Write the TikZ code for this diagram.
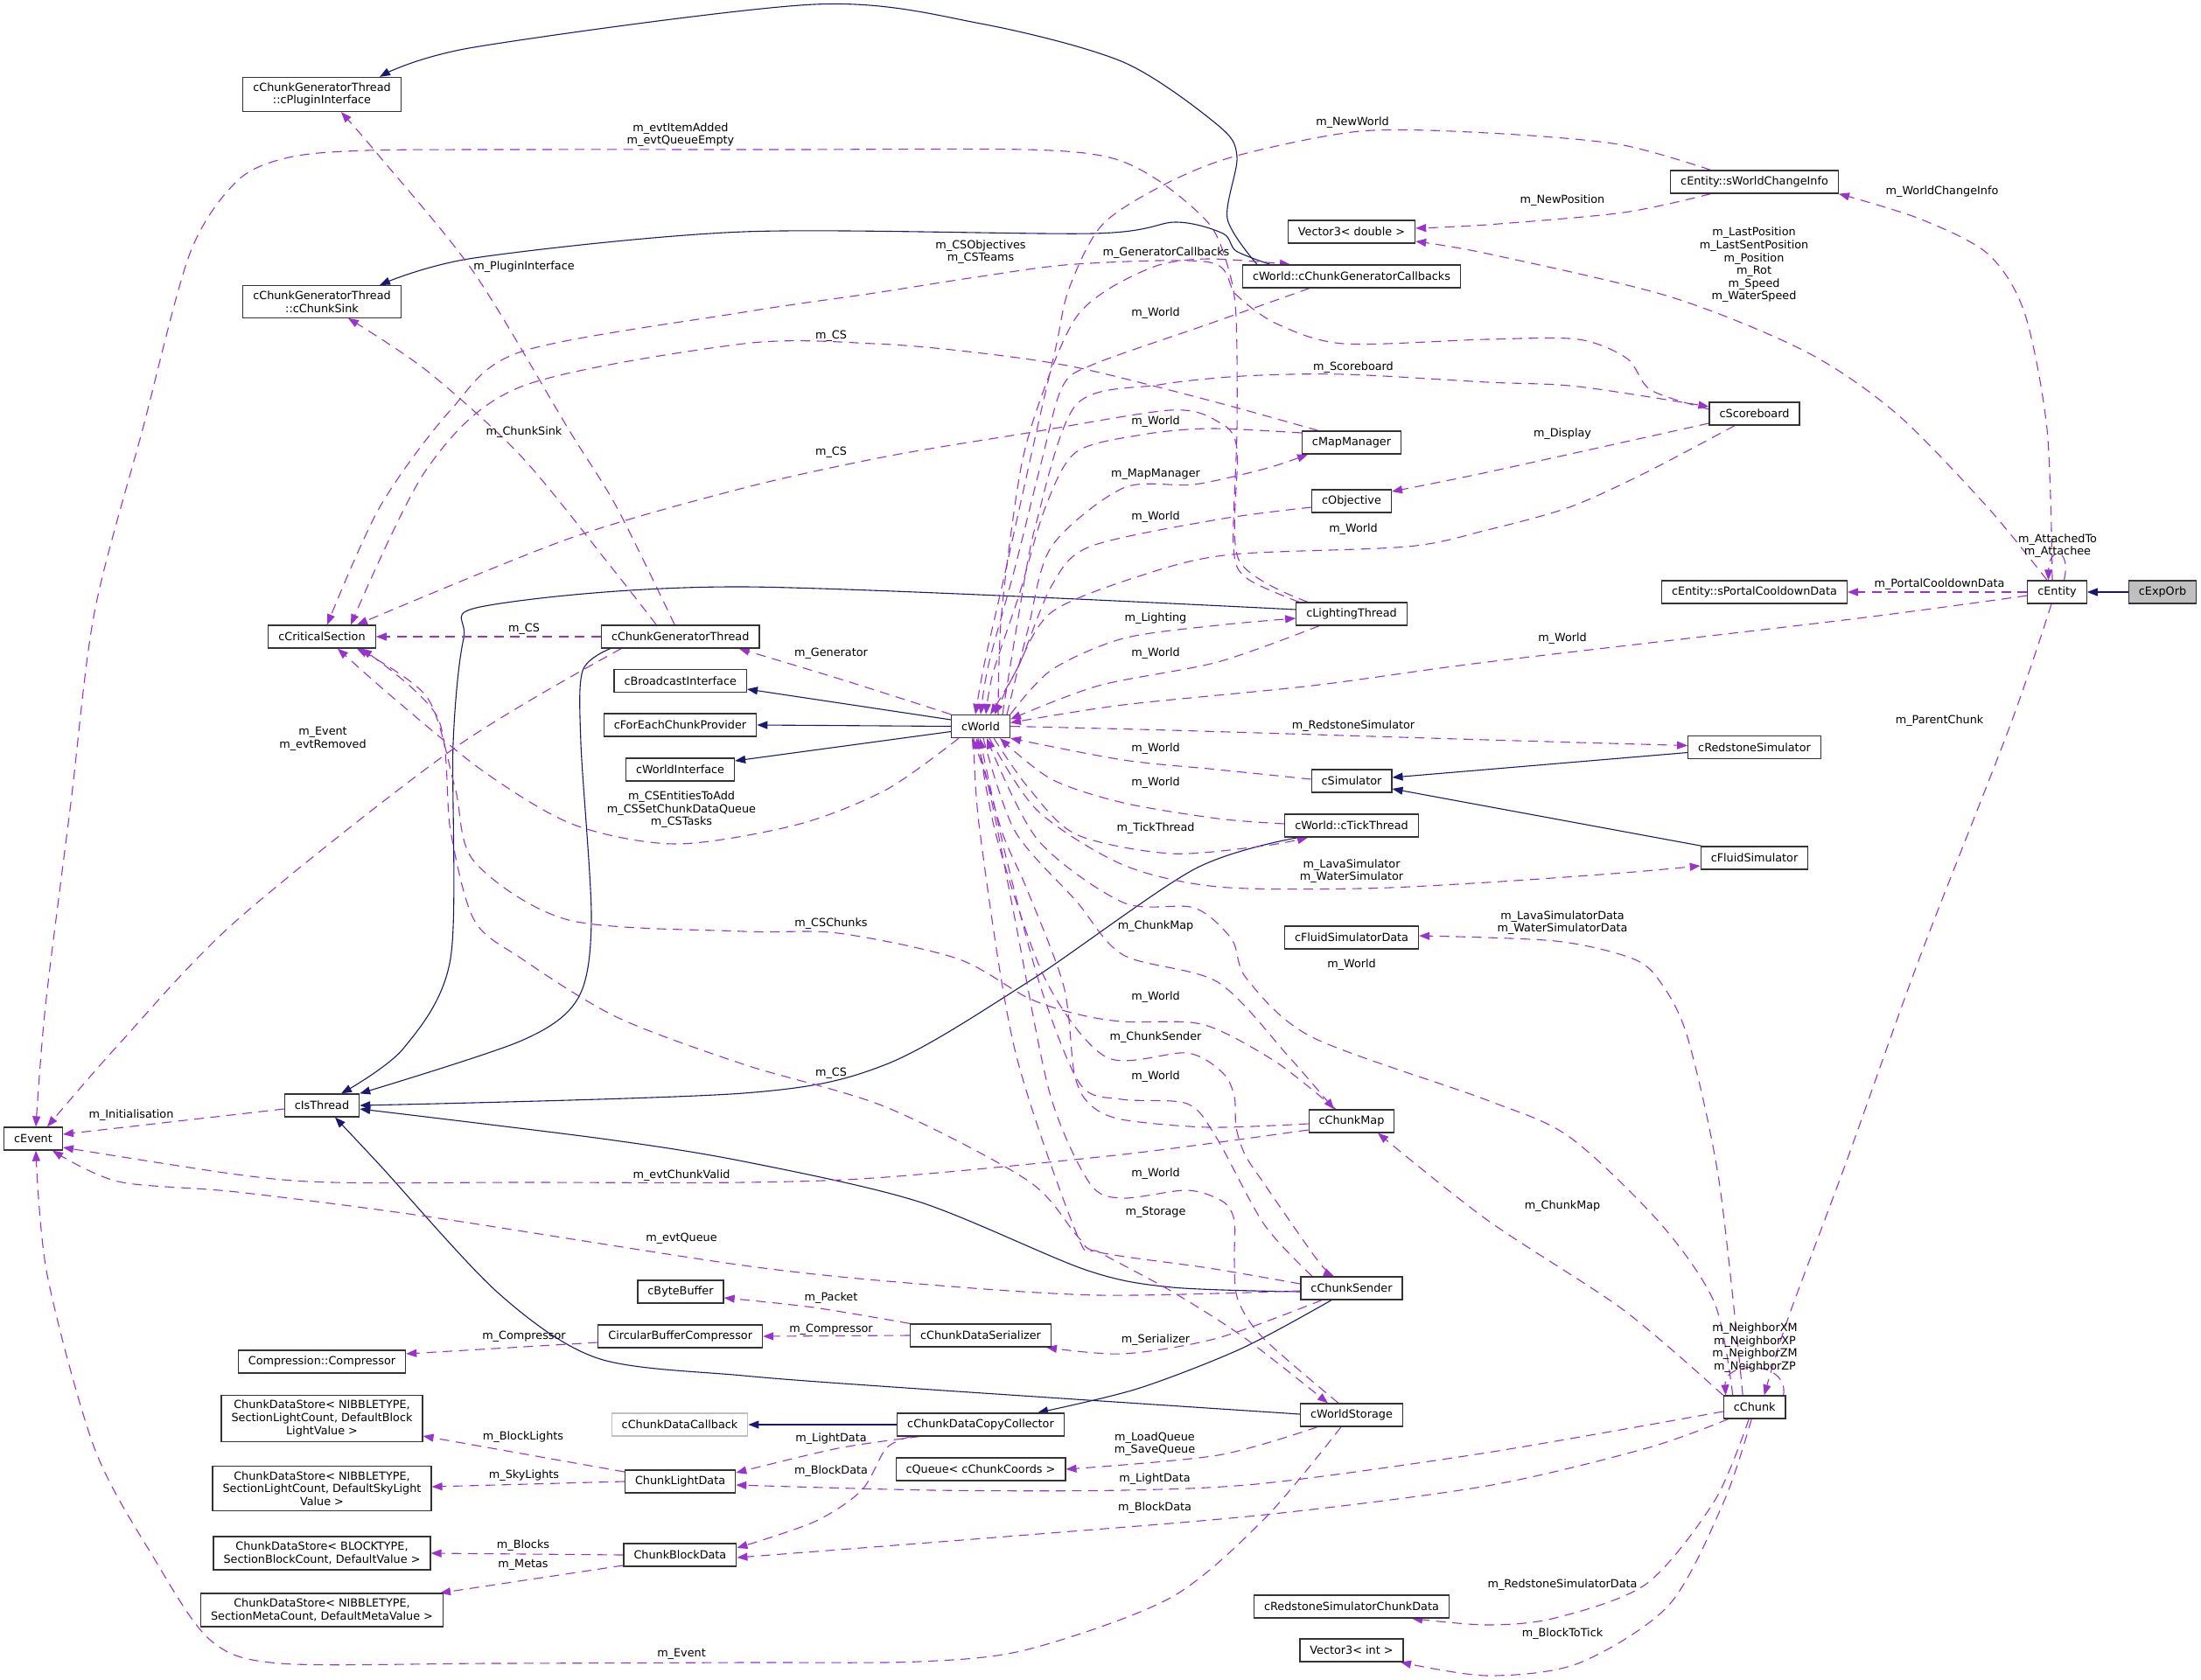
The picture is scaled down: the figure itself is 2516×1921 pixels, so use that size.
\documentclass[tikz,border=0pt]{standalone}
\usepackage{fontspec}
\setmainfont{DejaVu Sans}
\usepackage{tikz}
\usetikzlibrary{arrows.meta}
\usetikzlibrary{backgrounds}
\definecolor{inhblue}{RGB}{25,25,112}
\definecolor{usgpurple}{RGB}{154,50,205}
\newcommand{\gfont}{\fontsize{7.28pt}{8.3pt}\selectfont}
\tikzset{cls/.style = {draw=black!80, line width=0.25mm, fill=white,
                       inner xsep=2.3mm, inner ysep=1.2mm,
                       minimum height=5.2mm, align=center, font=\gfont}}
\tikzset{lbl/.style = {inner sep=0, align=center, font=\gfont}}
\tikzset{inh/.style = {draw=inhblue, line width=0.22mm,
                       -{Triangle[length=2.4mm,width=1.8mm]}}}
\tikzset{usg/.style = {draw=usgpurple, line width=0.22mm,
                       dash pattern=on 2.2mm off 1.5mm,
                       -{Triangle[length=2.4mm,width=1.8mm]}}}

\begin{document}
\begin{tikzpicture}[x=0.2mm, y=-0.2mm]
  \useasboundingbox (0,0) rectangle (2516,1921);

  % classes
  \node[cls, fill=black!25] (expOrb) at (2472,677) {cExpOrb};
  \node[cls] (entity) at (2351.5,677) {cEntity};
  \node[cls] (portalCD) at (2005.5,677) {cEntity::sPortalCooldownData};
  \node[cls] (worldChange) at (2005.5,208) {cEntity::sWorldChangeInfo};
  \node[cls] (scoreboard) at (2005.5,473) {cScoreboard};
  \node[cls] (redstoneSim) at (2005.5,854.5) {cRedstoneSimulator};
  \node[cls] (fluidSim) at (2005.5,981) {cFluidSimulator};
  \node[cls] (chunk) at (2005.7,1609) {cChunk};
  \node[cls] (vecD) at (1545,265) {Vector3< double >};
  \node[cls] (callbacks) at (1545,316) {cWorld::cChunkGeneratorCallbacks};
  \node[cls] (mapMgr) at (1545,506) {cMapManager};
  \node[cls] (objective) at (1545,573) {cObjective};
  \node[cls] (lighting) at (1545,702) {cLightingThread};
  \node[cls] (simulator) at (1545,893) {cSimulator};
  \node[cls] (tickThread) at (1545,944) {cWorld::cTickThread};
  \node[cls] (fluidData) at (1545,1072) {cFluidSimulatorData};
  \node[cls] (chunkMap) at (1545,1282) {cChunkMap};
  \node[cls] (sender) at (1545,1473) {cChunkSender};
  \node[cls] (storage) at (1545,1618) {cWorldStorage};
  \node[cls] (rsData) at (1545,1837) {cRedstoneSimulatorChunkData};
  \node[cls] (vecI) at (1545,1887) {Vector3< int >};
  \node[cls] (world) at (1121,830.5) {cWorld};
  \node[cls] (serializer) at (1121,1527) {cChunkDataSerializer};
  \node[cls] (copyColl) at (1121,1629) {cChunkDataCopyCollector};
  \node[cls] (queue) at (1121,1680) {cQueue< cChunkCoords >};
  \node[cls] (genThread) at (777.7,728) {cChunkGeneratorThread};
  \node[cls] (bcast) at (777.7,778.5) {cBroadcastInterface};
  \node[cls] (forEach) at (777.5,829) {cForEachChunkProvider};
  \node[cls] (worldIf) at (777.5,880) {cWorldInterface};
  \node[cls] (byteBuf) at (778,1477) {cByteBuffer};
  \node[cls] (circBuf) at (777.7,1528) {CircularBufferCompressor};
  \node[cls, draw=black!25] (dataCb) at (777,1629) {cChunkDataCallback};
  \node[cls] (lightData) at (777.6,1694) {ChunkLightData};
  \node[cls] (blockData) at (777.4,1778) {ChunkBlockData};
  \node[cls] (pluginIf) at (368,108) {cChunkGeneratorThread\\::cPluginInterface};
  \node[cls] (chunkSink) at (368,345) {cChunkGeneratorThread\\::cChunkSink};
  \node[cls] (critSec) at (368,728) {cCriticalSection};
  \node[cls] (isThread) at (368,1264) {cIsThread};
  \node[cls] (compressor) at (368,1557) {Compression::Compressor};
  \node[cls] (dsBlockLight) at (368,1622)
    {ChunkDataStore< NIBBLETYPE,\\ SectionLightCount, DefaultBlock\\LightValue >};
  \node[cls] (dsSkyLight) at (368,1702)
    {ChunkDataStore< NIBBLETYPE,\\ SectionLightCount, DefaultSkyLight\\Value >};
  \node[cls] (dsBlocks) at (368,1776)
    {ChunkDataStore< BLOCKTYPE,\\ SectionBlockCount, DefaultValue >};
  \node[cls] (dsMetas) at (368,1841)
    {ChunkDataStore< NIBBLETYPE,\\ SectionMetaCount, DefaultMetaValue >};
  \node[cls] (event) at (38,1302) {cEvent};

  \begin{pgfonlayer}{background}
  % inheritance
  \draw[inh] (expOrb) -- (entity);
  \draw[inh] plot[smooth] coordinates {([xshift=-21.6mm]callbacks.north) (1403,250) (1414,179) (1392,143) (1284,71) (1121,27) (931,5) (542,54) ([xshift=13.2mm]pluginIf.north)};
  \draw[inh] plot[smooth] coordinates {([xshift=-18.6mm]callbacks.north) (1413,287) (1398,267) (1344,254) (1249,267) (850,265) (542,295) ([xshift=13.2mm]chunkSink.north)};
  \draw[inh] plot[smooth] coordinates {([yshift=1mm]lighting.west) (850,671) (554,693) (530,730) (518,850) (515,1096) (461,1199) ([xshift=4.4mm]isThread.north)};
  \draw[inh] plot[smooth] coordinates {([xshift=-16mm]genThread.south) (666,767) (664,850) (676,1050) (661,1141) (596,1190) (isThread.north east)};
  \draw[inh] plot[smooth] coordinates {([xshift=-12.2mm]tickThread.south) (1365,994) (1175,1123) (1013,1217) (850,1250) (isThread.east)};
  \draw[inh] plot[smooth] coordinates {([yshift=-0.8mm]sender.west) (1340,1472) (1241,1452) (1050,1374) (850,1328) (688,1302) ([yshift=-0.8mm]isThread.east)};
  \draw[inh] plot[smooth] coordinates {([yshift=0.2mm]storage.west) (1050,1588) (850,1573) (683,1553) (569,1478) (434,1332) ([xshift=3mm]isThread.south)};
  \draw[inh] ([yshift=1.5mm]world.west) -- ([yshift=-1.9mm]bcast.east);
  \draw[inh] (world.west) -- (forEach.east);
  \draw[inh] ([yshift=-1.2mm]world.west) -- ([yshift=2mm]worldIf.east);
  \draw[inh] ([yshift=-1.2mm]redstoneSim.west) -- ([yshift=0.8mm]simulator.east);
  \draw[inh] ([xshift=-12mm]fluidSim.north) -- ([yshift=-1.8mm]simulator.east);
  \draw[inh] (copyColl.west) -- (dataCb.east);
  \draw[inh] plot[smooth] coordinates {([xshift=-4.6mm]sender.south) (1419,1542) (1300,1588) ([xshift=13mm]copyColl.north)};

  % members
  \draw[usg] plot[smooth] coordinates {([xshift=-12mm]lighting.north) (1425,661) (1410,625) (1414,491) (1413,363) (1405,310) (1383,257) (1325,207) (1268,180) (1172,171) (900,171) (600,171) (420,172) (330,180) (271,207) (217,290) (163,491) (108,700) (81,918) (52,1150) ([xshift=0.6mm]event.north)};
  \draw[usg] plot[smooth] coordinates {([xshift=-13.5mm]genThread.south) (520,855) (271,1052) (135,1195) ([xshift=3.2mm]event.north)};
  \draw[usg] ([yshift=-0.8mm]isThread.west) -- ([yshift=1mm]event.east);
  \draw[usg] plot[smooth] coordinates {([yshift=-2mm]chunkMap.west) (1284,1320) (1013,1346) (850,1352) (600,1352) (380,1352) (271,1343) ([yshift=-2mm]event.east)};
  \draw[usg] plot[smooth] coordinates {([yshift=-0.6mm]sender.west) (1257,1481) (1050,1468) (850,1447) (488,1391) (271,1363) (135,1351) ([xshift=4.4mm]event.south)};
  \draw[usg] plot[smooth] coordinates {([xshift=-2.4mm]storage.south) (1446,1736) (1338,1827) (1175,1886) (1050,1900) (850,1901) (560,1902) (320,1902) (240,1875) (175,1780) (108,1656) (54,1458) ([xshift=0.6mm]event.south)};
  \draw[usg] plot[smooth] coordinates {([yshift=1mm]scoreboard.west) (1887,446) (1860,410) (1804,388) (1700,388) (1536,393) (1459,370) (1413,337) (1383,300) (1230,302) (1115,317) (1000,335) (850,357) (596,402) (515,469) (434,580) ([xshift=1.2mm]critSec.north)};
  \draw[usg] plot[smooth] coordinates {([xshift=-7.6mm]mapMgr.north) (1383,458) (1230,420) (1115,403) (1000,393) (850,393) (596,442) (488,536) ([xshift=6.6mm]critSec.north)};
  \draw[usg] plot[smooth] coordinates {([xshift=-10mm]lighting.north) (1416,640) (1414,513) (1392,482) (1338,469) (1175,495) (1013,522) (850,558) (650,616) ([xshift=8mm]critSec.north)};
  \draw[usg] (genThread.west) -- (critSec.east);
  \draw[usg] plot[smooth] coordinates {([xshift=-5mm]world.south) (1013,903) (911,943) (773,965) (656,943) (554,883) (452,800) ([xshift=3.6mm]critSec.south)};
  \draw[usg] plot[smooth] coordinates {([xshift=-3.6mm]chunkMap.north) (1464,1218) (1402,1182) (1361,1169) (1282,1168) (1229,1159) (1175,1141) (1094,1096) (958,1067) (850,1065) (650,1052) (542,985) (520,900) (488,797) ([xshift=8mm]critSec.south)};
  \draw[usg] plot[smooth] coordinates {([yshift=1mm]sender.west) (1382,1450) (1257,1432) (1232,1414) (1175,1350) (1013,1266) (850,1217) (705,1163) (596,1096) (542,1052) (515,950) (500,820) ([xshift=9mm]critSec.south)};
  \draw[usg] plot[smooth] coordinates {([xshift=-1.3mm]genThread.north) (705,580) (650,491) (542,312) (434,179) ([xshift=4.4mm]pluginIf.south)};
  \draw[usg] plot[smooth] coordinates {([xshift=-5.5mm]genThread.north) (700,650) (596,522) (488,424) ([xshift=6mm]chunkSink.south)};
  \draw[usg] plot[smooth] coordinates {(world.north west) (962,777) ([xshift=13.4mm]genThread.south)};
  \draw[usg] plot[smooth] coordinates {([xshift=-10mm]worldChange.north) (1850,165) (1700,152) (1555,150) (1414,178) (1333,210) (1260,257) (1222,330) (1207,397) (1184,497) (1150,650) (1125,760) ([xshift=-1.2mm]world.north)};
  \draw[usg] plot[smooth] coordinates {([xshift=-10mm]worldChange.south) (1856,243) (1700,257) ([yshift=0.8mm]vecD.east)};
  \draw[usg] plot[smooth] coordinates {([xshift=-1.1mm]entity.north) (2340,491) (2314,357) (2272,290) (2194,250) (worldChange.south east)};
  \draw[usg] plot[smooth] coordinates {([xshift=-2.3mm]entity.north) (2272,580) (2168,473) (2064,402) (1908,339) (1700,290) ([yshift=-2.2mm]vecD.east)};
  \draw[usg] ([xshift=1.6mm]entity.north) .. controls (2368,625) and (2342,625) .. ([xshift=-2mm]entity.north);
  \draw[usg] (entity.west) -- (portalCD.east);
  \draw[usg] plot[smooth] coordinates {([yshift=-0.8mm]entity.west) (2116,708) (1700,757) (1500,784) (1284,806) ([yshift=0.8mm]world.east)};
  \draw[usg] plot[smooth] coordinates {([xshift=-1.3mm]entity.south) (2298,829) (2194,1096) (2110,1330) (2043,1510) ([xshift=2.2mm]chunk.north)};
  \draw[usg] plot[smooth] coordinates {([xshift=4mm]world.north) (1145,700) (1168,530) (1199,430) (1230,363) (1268,330) (1325,303) (1383,296) ([xshift=-14mm]callbacks.north)};
  \draw[usg] plot[smooth] coordinates {([xshift=-9.6mm]callbacks.south) (1383,370) (1249,417) (1214,443) (1190,530) (1160,650) (1130,760) (world.north)};
  \draw[usg] plot[smooth] coordinates {([xshift=5mm]world.north) (1165,700) (1184,600) (1230,463) (1325,440) (1421,430) (1536,428) (1700,437) (1804,442) ([yshift=1.6mm]scoreboard.west)};
  \draw[usg] plot[smooth] coordinates {([yshift=2.2mm]mapMgr.west) (1383,490) (1306,497) (1230,517) (1195,580) (1165,680) (1135,770) ([xshift=1.2mm]world.north)};
  \draw[usg] plot[smooth] coordinates {([xshift=6mm]world.north) (1175,720) (1202,625) (1284,558) (1365,554) (1446,536) ([xshift=-10mm]mapMgr.south)};
  \draw[usg] plot[smooth] coordinates {([yshift=-1.4mm]objective.west) (1392,594) (1246,625) (1202,670) (1165,760) ([xshift=2.2mm]world.north)};
  \draw[usg] plot[smooth] coordinates {([yshift=-2.2mm]scoreboard.west) (1700,540) ([yshift=2.2mm]objective.east)};
  \draw[usg] plot[smooth] coordinates {([xshift=-4.5mm]scoreboard.south) (1882,540) (1794,580) (1700,606) (1609,625) (1408,634) (1311,656) (1202,700) (1160,770) ([xshift=3.2mm]world.north)};
  \draw[usg] plot[smooth] coordinates {(world.north east) (1202,766) (1284,730) (1392,715) ([yshift=-1mm]lighting.west)};
  \draw[usg] plot[smooth] coordinates {([xshift=-7.4mm]lighting.south) (1392,757) (1256,784) ([yshift=1.6mm]world.east)};
  \draw[usg] plot[smooth] coordinates {(world.east) (1338,835) (1700,846) ([yshift=0.4mm]redstoneSim.west)};
  \draw[usg] plot[smooth] coordinates {([yshift=0.4mm]simulator.west) (1392,880) (1284,869) (world.south east)};
  \draw[usg] plot[smooth] coordinates {([yshift=0.4mm]tickThread.west) (1392,936) (1284,918) (1202,891) ([xshift=4.4mm]world.south)};
  \draw[usg] plot[smooth] coordinates {([xshift=3mm]world.south) (1175,900) (1230,954) (1338,976) (1446,967) ([xshift=-10mm]tickThread.south)};
  \draw[usg] plot[smooth] coordinates {([xshift=2mm]world.south) (1186,927) (1284,989) (1392,1014) (1555,1016) (1700,1009) (1856,998) ([yshift=-1.8mm]fluidSim.west)};
  \draw[usg] plot[smooth] coordinates {([xshift=-2.7mm]chunk.north) (1965,1350) (1929,1186) (1898,1123) (1866,1096) (1778,1076) ([yshift=0.4mm]fluidData.east)};
  \draw[usg] plot[smooth] coordinates {([xshift=-5mm]chunk.north) (1960,1490) (1898,1399) (1794,1300) (1700,1258) (1500,1186) (1425,1119) (1408,1074) (1365,1038) (1284,1032) (1186,960) ([xshift=1.4mm]world.south)};
  \draw[usg] plot[smooth] coordinates {([xshift=0.6mm]world.south) (1160,950) (1230,1030) (1284,1092) (1392,1123) (1473,1208) ([xshift=-4mm]chunkMap.north)};
  \draw[usg] plot[smooth] coordinates {([yshift=-0.6mm]chunkMap.west) (1382,1289) (1282,1280) (1245,1262) (1228,1227) (1216,1128) (1174,1017) (1145,950) ([xshift=-1mm]world.south)};
  \draw[usg] plot[smooth] coordinates {([xshift=-0.6mm]world.south) (1140,960) (1195,1120) (1265,1209) (1357,1204) (1398,1227) (1411,1254) (1413,1289) (1423,1320) (1444,1352) (1506,1441) ([xshift=-4mm]sender.north)};
  \draw[usg] plot[smooth] coordinates {([xshift=-9mm]sender.north) (1445,1400) (1390,1300) (1357,1262) (1282,1257) (1235,1240) (1190,1130) (1150,980) ([xshift=-0.2mm]world.south)};
  \draw[usg] plot[smooth] coordinates {([xshift=-3mm]storage.north) (1444,1530) (1415,1486) (1411,1441) (1411,1396) (1398,1374) (1357,1361) (1282,1370) (1245,1352) (1200,1250) (1160,1050) (1130,900) ([xshift=-2mm]world.south)};
  \draw[usg] plot[smooth] coordinates {([xshift=-1.6mm]world.south) (1120,950) (1160,1200) (1232,1414) (1257,1432) (1340,1477) (1423,1530) ([xshift=-5.4mm]storage.north)};
  \draw[usg] plot[smooth] coordinates {(chunk.north west) (1856,1498) (1700,1395) ([xshift=6mm]chunkMap.south)};
  \draw[usg] ([xshift=6.6mm]chunk.north) .. controls (2045,1555) and (1970,1555) .. ([xshift=-6.6mm]chunk.north);
  \draw[usg] plot[smooth] coordinates {([yshift=-1mm]chunk.west) (1700,1661) (1446,1696) (1284,1704) (1067,1704) ([yshift=-0.8mm]lightData.east)};
  \draw[usg] plot[smooth] coordinates {([xshift=-6mm]chunk.south) (1882,1656) (1700,1699) (1446,1732) (1175,1755) ([yshift=-0.6mm]blockData.east)};
  \draw[usg] plot[smooth] coordinates {([xshift=-1.3mm]chunk.south) (1960,1716) (1882,1811) (1778,1850) (1700,1858) ([xshift=13.8mm]rsData.south)};
  \draw[usg] plot[smooth] coordinates {([xshift=-0.7mm]chunk.south) (1971,1716) (1908,1835) (1804,1902) (1700,1916) ([xshift=11.2mm]vecI.south)};
  \draw[usg] plot[smooth] coordinates {([xshift=-7.8mm]storage.south) (1392,1664) (queue.east)};
  \draw[usg] plot[smooth] coordinates {([xshift=-6.8mm]sender.south) (1392,1530) (1284,1548) ([xshift=15mm]serializer.south)};
  \draw[usg] plot[smooth] coordinates {(serializer.north west) (930,1495) ([yshift=-1.4mm]byteBuf.east)};
  \draw[usg] (serializer.west) -- (circBuf.east);
  \draw[usg] ([yshift=-1.4mm]circBuf.west) -- ([yshift=1.8mm]compressor.east);
  \draw[usg] plot[smooth] coordinates {([xshift=-14mm]copyColl.south) (958,1656) ([yshift=2mm]lightData.east)};
  \draw[usg] plot[smooth] coordinates {([xshift=-16mm]copyColl.south) (1013,1656) (985,1704) (931,1740) ([yshift=1.6mm]blockData.east)};
  \draw[usg] ([yshift=2.2mm]lightData.west) -- ([yshift=-4mm]dsBlockLight.east);
  \draw[usg] (lightData.west) -- ([yshift=0.4mm]dsSkyLight.east);
  \draw[usg] (blockData.west) -- (dsBlocks.east);
  \draw[usg] ([yshift=-2.4mm]blockData.west) -- ([xshift=27mm]dsMetas.north);
  \end{pgfonlayer}

  % member names
  \node[lbl] (lb1) at (778,154) {m\_evtItemAdded\\m\_evtQueueEmpty};
  \node[lbl] (lb2) at (1546,140) {m\_NewWorld};
  \node[lbl] (lb3) at (1786,229) {m\_NewPosition};
  \node[lbl] (lb4) at (2220,219) {m\_WorldChangeInfo};
  \node[lbl] (lb5) at (2005,303) {m\_LastPosition\\m\_LastSentPosition\\m\_Position\\m\_Rot\\m\_Speed\\m\_WaterSpeed};
  \node[lbl] (lb6) at (1121,288) {m\_CSObjectives\\m\_CSTeams};
  \node[lbl] (lb7) at (1333,289) {m\_GeneratorCallbacks};
  \node[lbl] (lb8) at (1321,358) {m\_World};
  \node[lbl] (lb9) at (599,305) {m\_PluginInterface};
  \node[lbl] (lb10) at (950,384) {m\_CS};
  \node[lbl] (lb11) at (1547,420) {m\_Scoreboard};
  \node[lbl] (lb12) at (1321,482) {m\_World};
  \node[lbl] (lb13) at (1786,496) {m\_Display};
  \node[lbl] (lb14) at (599,494) {m\_ChunkSink};
  \node[lbl] (lb15) at (950,517) {m\_CS};
  \node[lbl] (lb16) at (1321,542) {m\_MapManager};
  \node[lbl] (lb17) at (1321,591) {m\_World};
  \node[lbl] (lb18) at (1547,605) {m\_World};
  \node[lbl] (lb19) at (2352,624) {m\_AttachedTo\\m\_Attachee};
  \node[lbl] (lb20) at (2217,668) {m\_PortalCooldownData};
  \node[lbl] (lb21) at (1321,707) {m\_Lighting};
  \node[lbl] (lb22) at (599,719) {m\_CS};
  \node[lbl] (lb23) at (950,747) {m\_Generator};
  \node[lbl] (lb24) at (1786,730) {m\_World};
  \node[lbl] (lb25) at (1321,747) {m\_World};
  \node[lbl] (lb26) at (2217,824) {m\_ParentChunk};
  \node[lbl] (lb27) at (1547,830) {m\_RedstoneSimulator};
  \node[lbl] (lb28) at (369,845) {m\_Event\\m\_evtRemoved};
  \node[lbl] (lb29) at (1321,856) {m\_World};
  \node[lbl] (lb30) at (1321,895) {m\_World};
  \node[lbl] (lb31) at (779,926) {m\_CSEntitiesToAdd\\m\_CSSetChunkDataQueue\\m\_CSTasks};
  \node[lbl] (lb32) at (1321,947) {m\_TickThread};
  \node[lbl] (lb33) at (1545,996) {m\_LavaSimulator\\m\_WaterSimulator};
  \node[lbl] (lb34) at (1786,1055) {m\_LavaSimulatorData\\m\_WaterSimulatorData};
  \node[lbl] (lb35) at (950,1056) {m\_CSChunks};
  \node[lbl] (lb36) at (1321,1059) {m\_ChunkMap};
  \node[lbl] (lb37) at (1545,1103) {m\_World};
  \node[lbl] (lb38) at (1321,1140) {m\_World};
  \node[lbl] (lb39) at (1321,1186) {m\_ChunkSender};
  \node[lbl] (lb40) at (1321,1231) {m\_World};
  \node[lbl] (lb41) at (950,1227) {m\_CS};
  \node[lbl] (lb42) at (150,1275) {m\_Initialisation};
  \node[lbl] (lb43) at (779,1344) {m\_evtChunkValid};
  \node[lbl] (lb44) at (1321,1342) {m\_World};
  \node[lbl] (lb45) at (1786,1379) {m\_ChunkMap};
  \node[lbl] (lb46) at (1321,1386) {m\_Storage};
  \node[lbl] (lb47) at (779,1416) {m\_evtQueue};
  \node[lbl] (lb48) at (950,1484) {m\_Packet};
  \node[lbl] (lb49) at (950,1520) {m\_Compressor};
  \node[lbl] (lb50) at (1321,1532) {m\_Serializer};
  \node[lbl] (lb51) at (599,1528) {m\_Compressor};
  \node[lbl] (lb52) at (2006,1541) {m\_NeighborXM\\m\_NeighborXP\\m\_NeighborZM\\m\_NeighborZP};
  \node[lbl] (lb53) at (598,1643) {m\_BlockLights};
  \node[lbl] (lb54) at (950,1645) {m\_LightData};
  \node[lbl] (lb55) at (1320,1651) {m\_LoadQueue\\m\_SaveQueue};
  \node[lbl] (lb56) at (950,1682) {m\_BlockData};
  \node[lbl] (lb57) at (599,1687) {m\_SkyLights};
  \node[lbl] (lb58) at (1320,1691) {m\_LightData};
  \node[lbl] (lb59) at (1320,1724) {m\_BlockData};
  \node[lbl] (lb60) at (598,1767) {m\_Blocks};
  \node[lbl] (lb61) at (598,1789) {m\_Metas};
  \node[lbl] (lb62) at (1786,1812) {m\_RedstoneSimulatorData};
  \node[lbl] (lb63) at (1786,1868) {m\_BlockToTick};
  \node[lbl] (lb64) at (779,1891) {m\_Event};
\end{tikzpicture}
\end{document}
